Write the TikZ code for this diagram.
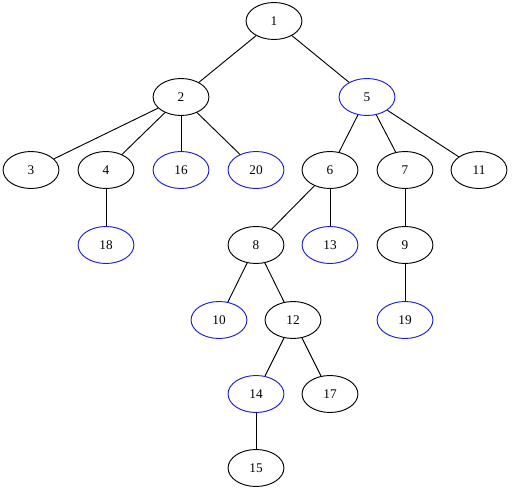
\documentclass[tikz,border=0pt]{standalone}
\usepackage{fontspec}
\setmainfont{Liberation Serif}
\usetikzlibrary{shapes.geometric}
\definecolor{LeafBlue}{HTML}{1A1AE6}

\begin{document}
\begin{tikzpicture}[x=0.0265cm, y=-0.0265cm, every node/.style={font=\normalsize}, vert/.style={ellipse, draw=black, line width=0.7pt, minimum width=1.48cm, minimum height=0.98cm, inner sep=0pt}, leaf/.style={vert, draw=LeafBlue}, edge/.style={line width=0.7pt, color=black}]
\useasboundingbox (0,0) rectangle (512,493);
\node[vert] (n1) at (274,21) {1};
\node[vert] (n2) at (181,97) {2};
\node[leaf] (n5) at (367,97) {5};
\node[vert] (n3) at (31,170) {3};
\node[vert] (n4) at (106,170) {4};
\node[leaf] (n16) at (181,170) {16};
\node[leaf] (n20) at (256,170) {20};
\node[vert] (n6) at (330,170) {6};
\node[vert] (n7) at (405,170) {7};
\node[vert] (n11) at (479,170) {11};
\node[leaf] (n18) at (106,245) {18};
\node[vert] (n8) at (256,245) {8};
\node[leaf] (n13) at (330,245) {13};
\node[vert] (n9) at (405,245) {9};
\node[leaf] (n10) at (219,320) {10};
\node[vert] (n12) at (293,320) {12};
\node[leaf] (n19) at (405,320) {19};
\node[leaf] (n14) at (256,394) {14};
\node[vert] (n17) at (330,394) {17};
\node[vert] (n15) at (256,468) {15};
\draw[edge] (n1)--(n2); \draw[edge] (n1)--(n5);
\draw[edge] (n2)--(n3); \draw[edge] (n2)--(n4); \draw[edge] (n2)--(n16); \draw[edge] (n2)--(n20);
\draw[edge] (n5)--(n6); \draw[edge] (n5)--(n7); \draw[edge] (n5)--(n11);
\draw[edge] (n4)--(n18);
\draw[edge] (n6)--(n8); \draw[edge] (n6)--(n13);
\draw[edge] (n7)--(n9);
\draw[edge] (n8)--(n10); \draw[edge] (n8)--(n12);
\draw[edge] (n9)--(n19);
\draw[edge] (n12)--(n14); \draw[edge] (n12)--(n17);
\draw[edge] (n14)--(n15);
\end{tikzpicture}
\end{document}
